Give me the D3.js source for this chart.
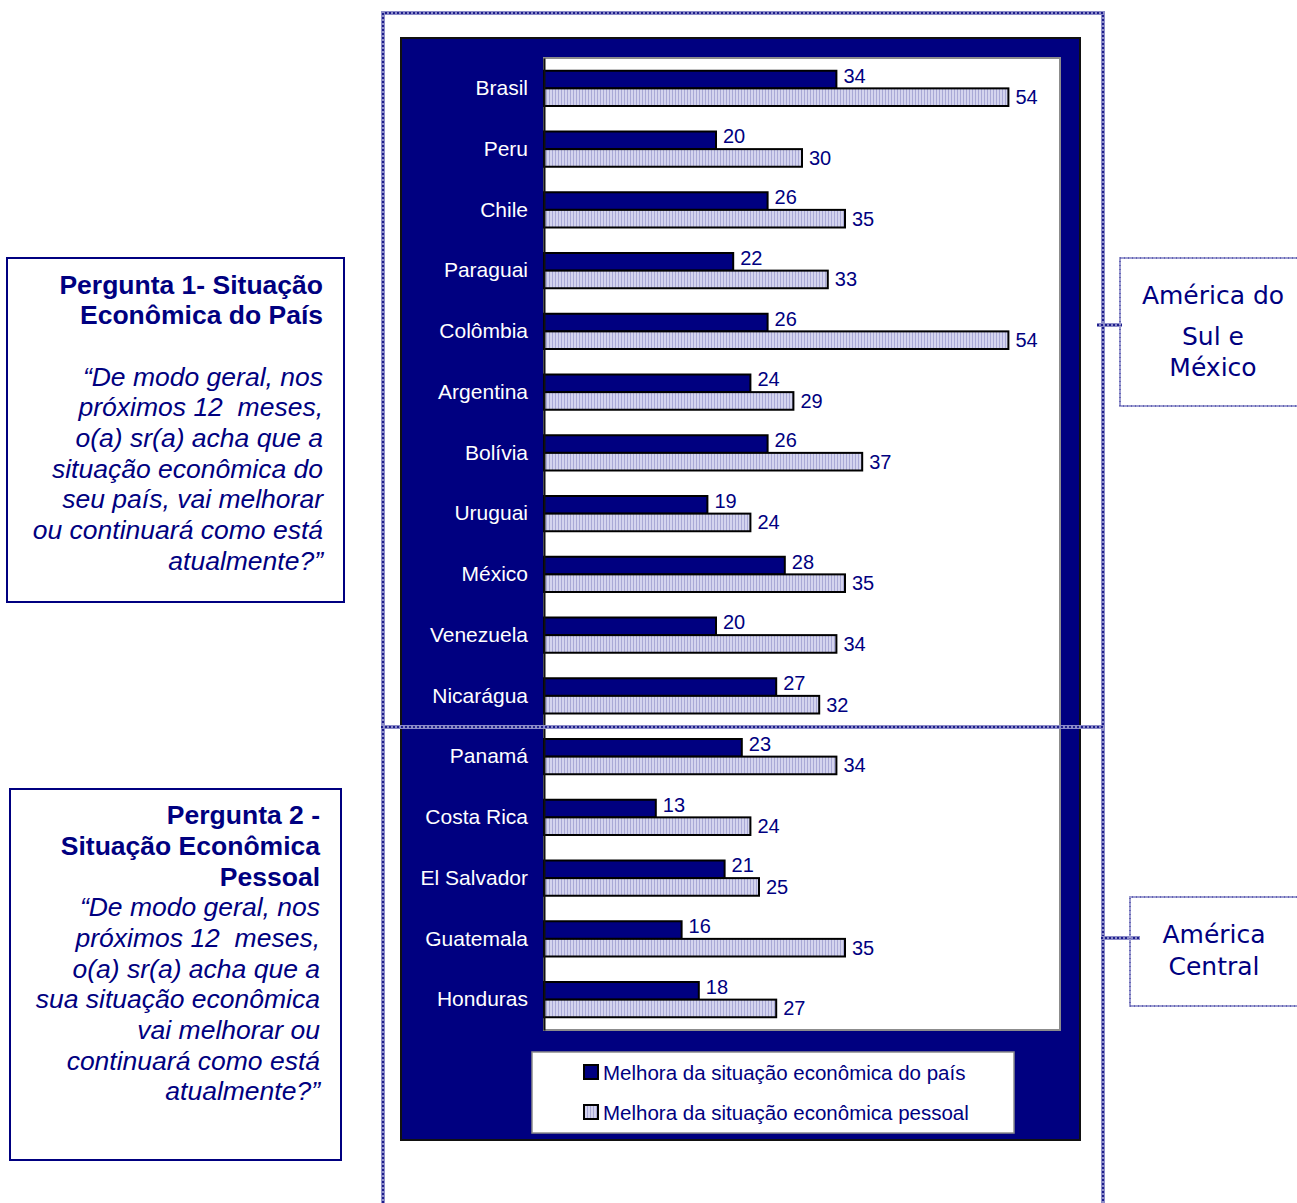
<!DOCTYPE html>
<html>
<head>
<meta charset="utf-8">
<script src="https://cdn.jsdelivr.net/npm/d3@7"></script>
<style>
  body { margin: 0; background: #fff; }
  svg { display: block; }
</style>
</head>
<body>
<div id="chart"></div>
<script>
// data
var paises = ["Brasil", "Peru", "Chile", "Paraguai", "Colômbia", "Argentina", "Bolívia", "Uruguai",
  "México", "Venezuela", "Nicarágua", "Panamá", "Costa Rica", "El Salvador", "Guatemala", "Honduras"];
var melhoraPais = [34, 20, 26, 22, 26, 24, 26, 19, 28, 20, 27, 23, 13, 21, 16, 18];
var melhoraPessoal = [54, 30, 35, 33, 54, 29, 37, 24, 35, 34, 32, 34, 24, 25, 35, 27];
var series = ["Melhora da situação econômica do país", "Melhora da situação econômica pessoal"];
var xTicks = [0, 60];

var navy = "#000080";
var width = 1297, height = 1203;

var svg = d3.select("#chart").append("svg")
  .attr("width", width)
  .attr("height", height);

var defs = svg.append("defs");
// light bars have a fine vertical hatching
var pat = defs.append("pattern")
  .attr("id", "hatch")
  .attr("patternUnits", "userSpaceOnUse")
  .attr("width", 3).attr("height", 3);
pat.append("rect").attr("width", 3).attr("height", 3).attr("fill", "#d4d4ee");
pat.append("rect").attr("width", 1).attr("height", 3).attr("fill", "#a9a9d6");

// dotted frame lines (pale band + navy dots)
function dotted(g, d) {
  g.append("path").attr("d", d).attr("fill", "none")
    .attr("stroke", "#8c8cc8").attr("stroke-width", 4);
  g.append("path").attr("d", d).attr("fill", "none")
    .attr("stroke", "#1e1e8c").attr("stroke-width", 2).attr("stroke-dasharray", "2,2");
}
function dottedThin(g, d) {
  g.append("path").attr("d", d).attr("fill", "none")
    .attr("stroke", "#9c9cd0").attr("stroke-width", 2);
  g.append("path").attr("d", d).attr("fill", "none")
    .attr("stroke", "#30309a").attr("stroke-width", 1).attr("stroke-dasharray", "1,3");
}

var frame = svg.append("g");
dotted(frame, "M383,1203 V13 H1103 V1203");
dotted(frame, "M1097,325 H1122");
dotted(frame, "M1101,938 H1140");

// region boxes at right
var rb = svg.append("g");
dottedThin(rb, "M1297,258 H1120 V406 H1297");
dottedThin(rb, "M1297,897 H1130 V1006 H1297");

function regionText(lines, ys, cx) {
  rb.selectAll(null).data(lines).enter().append("text")
    .attr("x", cx)
    .attr("y", function(d, i) { return ys[i]; })
    .attr("text-anchor", "middle")
    .attr("dominant-baseline", "central")
    .style("font-family", "'DejaVu Sans', Verdana, sans-serif")
    .style("font-size", "25px")
    .style("fill", navy)
    .text(function(d) { return d; });
}
regionText(["América do", "Sul e", "México"], [295, 336, 367], 1213);
regionText(["América", "Central"], [934, 966], 1214);

// question boxes at left
function questionBox(x, y, w, h, tx, bold, italic, ys) {
  var g = svg.append("g");
  g.append("rect").attr("x", x).attr("y", y).attr("width", w).attr("height", h)
    .attr("fill", "#fff").attr("stroke", navy).attr("stroke-width", 2);
  var lines = bold.map(function(t) { return { t: t, b: true }; })
    .concat(italic.map(function(t) { return { t: t, b: false }; }));
  g.selectAll(null).data(lines).enter().append("text")
    .attr("x", tx)
    .attr("y", function(d, i) { return ys[i]; })
    .attr("text-anchor", "end")
    .attr("dominant-baseline", "central")
    .attr("xml:space", "preserve")
    .style("white-space", "pre")
    .style("font-family", "Arial, 'Liberation Sans', sans-serif")
    .style("font-size", "26.5px")
    .style("font-weight", function(d) { return d.b ? "bold" : "normal"; })
    .style("font-style", function(d) { return d.b ? "normal" : "italic"; })
    .style("fill", navy)
    .text(function(d) { return d.t; });
}
questionBox(7, 258, 337, 344, 323,
  ["Pergunta 1- Situação", "Econômica do País"],
  ["“De modo geral, nos", "próximos 12  meses,", "o(a) sr(a) acha que a", "situação econômica do",
   "seu país, vai melhorar", "ou continuará como está", "atualmente?”"],
  [285, 315, 377, 407, 438, 469, 499, 530, 561]);
questionBox(10, 789, 331, 371, 320,
  ["Pergunta 2 -", "Situação Econômica", "Pessoal"],
  ["“De modo geral, nos", "próximos 12  meses,", "o(a) sr(a) acha que a", "sua situação econômica",
   "vai melhorar ou", "continuará como está", "atualmente?”"],
  [815, 846, 877, 907, 938, 969, 999, 1030, 1061, 1091]);

// chart background
svg.append("rect").attr("x", 401).attr("y", 38).attr("width", 679).attr("height", 1102)
  .attr("fill", navy).attr("stroke", "#111").attr("stroke-width", 2);

var plot = { left: 544, right: 1060, top: 58, bottom: 1030 };
svg.append("rect").attr("x", plot.left).attr("y", plot.top)
  .attr("width", plot.right - plot.left).attr("height", plot.bottom - plot.top)
  .attr("fill", "#fff").attr("stroke", "#8c8c8c").attr("stroke-width", 2);

var x = d3.scaleLinear().domain(d3.extent(xTicks)).range([plot.left, plot.right]);
var y = d3.scaleBand().domain(paises).range([plot.top, plot.bottom])
  .paddingInner(0.42).paddingOuter(0.21);
var ySub = d3.scaleBand().domain(series).range([0, y.bandwidth()]);

var rows = paises.map(function(p, i) {
  return { pais: p, vals: [melhoraPais[i], melhoraPessoal[i]] };
});

var groups = svg.append("g").selectAll("g")
  .data(rows).enter().append("g")
  .attr("transform", function(d) { return "translate(0," + y(d.pais) + ")"; });

groups.selectAll("rect")
  .data(function(d) { return d.vals.map(function(v, j) { return { v: v, s: series[j], j: j }; }); })
  .enter().append("rect")
  .attr("x", x(0))
  .attr("y", function(d) { return ySub(d.s); })
  .attr("width", function(d) { return x(d.v) - x(0); })
  .attr("height", ySub.bandwidth())
  .attr("fill", function(d) { return d.j == 0 ? navy : "url(#hatch)"; })
  .attr("stroke", "#000").attr("stroke-width", 2);

groups.selectAll("text")
  .data(function(d) { return d.vals.map(function(v, j) { return { v: v, s: series[j], j: j }; }); })
  .enter().append("text")
  .attr("x", function(d) { return x(d.v) + 7; })
  .attr("y", function(d) { return ySub(d.s) + ySub.bandwidth() / 2 + (d.j == 0 ? -4 : 0); })
  .attr("dominant-baseline", "central")
  .style("font-family", "Arial, 'Liberation Sans', sans-serif")
  .style("font-size", "20px")
  .style("fill", navy)
  .text(function(d) { return d.v; });

// category axis
var yAxis = svg.append("g")
  .attr("transform", "translate(" + plot.left + ",0)")
  .call(d3.axisLeft(y).tickSize(0).tickPadding(16));
yAxis.select(".domain").attr("stroke", "#111").attr("stroke-width", 2);
yAxis.selectAll("text")
  .style("font-family", "Arial, 'Liberation Sans', sans-serif")
  .style("font-size", "21px")
  .style("fill", "#fff");

// legend
var leg = svg.append("g");
leg.append("rect").attr("x", 532).attr("y", 1052).attr("width", 482).attr("height", 81)
  .attr("fill", "#fff").attr("stroke", "#8c8c8c").attr("stroke-width", 1.5);
var li = leg.selectAll("g").data(series).enter().append("g")
  .attr("transform", function(d, i) { return "translate(584," + (1065 + i * 40) + ")"; });
li.append("rect").attr("width", 14).attr("height", 14)
  .attr("fill", function(d, i) { return i == 0 ? navy : "url(#hatch)"; })
  .attr("stroke", "#000").attr("stroke-width", 2);
li.append("text").attr("x", 19).attr("y", 7)
  .attr("dominant-baseline", "central")
  .style("font-family", "Arial, 'Liberation Sans', sans-serif")
  .style("font-size", "20.5px")
  .style("fill", navy)
  .text(function(d) { return d; });

// divider between the two regions runs over the chart
dotted(svg.append("g"), "M381,727 H1105");
</script>
</body>
</html>
